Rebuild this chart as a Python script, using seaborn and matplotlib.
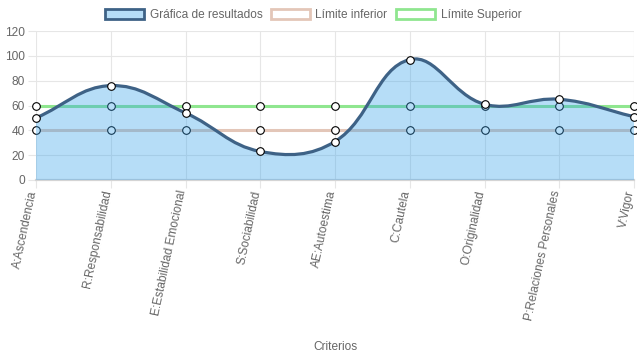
import numpy as np
import pandas as pd
import matplotlib
matplotlib.use("Agg")
import matplotlib.pyplot as plt
import seaborn as sns
from matplotlib.path import Path
from matplotlib.patches import PathPatch, Patch

categories = ["A:Ascendencia", "R:Responsabilidad", "E:Estabilidad Emocional",
              "S:Sociabilidad", "AE:Autoestima", "C:Cautela", "O:Originalidad",
              "P:Relaciones Personales", "V:Vigor"]
resultados = [50, 76, 54, 23, 31, 97, 61, 65, 51]
limite_inferior = [40, 40, 40, 40, 40, 40, 40, 40, 40]
limite_superior = [60, 60, 60, 60, 60, 60, 60, 60, 60]
y_ticks = [0, 20, 40, 60, 80, 100, 120]
legend_labels = ["Gráfica de resultados", "Límite inferior", "Límite Superior"]

sns.set_theme(style="white")
plt.rcParams["font.family"] = ["Liberation Sans", "DejaVu Sans"]

W, H = 637, 359
fig = plt.figure(figsize=(W / 100, H / 100), dpi=100)
L, R, T, B = 36, 634, 31, 180
ax = fig.add_axes([L / W, 1 - B / H, (R - L) / W, (B - T) / H])
n = len(categories)
ax.set_xlim(0, n - 1)
ax.set_ylim(0, 120)

FILL = (54 / 255, 162 / 255, 235 / 255, 0.36)
LINE = "#3e6286"
LOW = "#e3c6b8"
UP = "#8fe68f"
TXT = "#666666"
GRID = "#e6e6e6"

df = pd.DataFrame({"idx": np.arange(n), "res": resultados,
                   "low": limite_inferior, "up": limite_superior})

mk = dict(marker="o", markersize=5.5, markerfacecolor="white",
          markeredgecolor="black", markeredgewidth=0.8, clip_on=False)
sns.lineplot(data=df, x="idx", y="up", ax=ax, color=UP, lw=2.2, zorder=2, **mk)
sns.lineplot(data=df, x="idx", y="low", ax=ax, color=LOW, lw=2.2, zorder=2, **mk)

# Chart.js style bezier (tension 0.4) computed in pixel space
sx = (R - L) / (n - 1)
sy = (B - T) / 120.0
px = np.arange(n) * sx
py = np.array(resultados, dtype=float) * sy
t = 0.4
cp_prev = []
cp_next = []
for i in range(n):
    x0, y0 = (px[i - 1], py[i - 1]) if i > 0 else (px[i], py[i])
    x1, y1 = px[i], py[i]
    x2, y2 = (px[i + 1], py[i + 1]) if i < n - 1 else (px[i], py[i])
    d01 = np.hypot(x1 - x0, y1 - y0)
    d12 = np.hypot(x2 - x1, y2 - y1)
    tot = d01 + d12
    s01 = d01 / tot if tot else 0
    s12 = d12 / tot if tot else 0
    fa, fb = t * s01, t * s12
    cp_prev.append((x1 - fa * (x2 - x0), y1 - fa * (y2 - y0)))
    cp_next.append((x1 + fb * (x2 - x0), y1 + fb * (y2 - y0)))

verts = [(px[0], py[0])]
codes = [Path.MOVETO]
for i in range(n - 1):
    verts += [cp_next[i], cp_prev[i + 1], (px[i + 1], py[i + 1])]
    codes += [Path.CURVE4] * 3
verts = [(vx / sx, vy / sy) for vx, vy in verts]

line_path = Path(verts, codes)
fill_verts = [(0, 0), verts[0]] + verts[1:] + [(n - 1, 0), (0, 0)]
fill_codes = [Path.MOVETO, Path.LINETO] + codes[1:] + [Path.LINETO, Path.CLOSEPOLY]
ax.add_patch(PathPatch(Path(fill_verts, fill_codes), facecolor=FILL, edgecolor="none", zorder=3))
ax.add_patch(PathPatch(line_path, facecolor="none", edgecolor=LINE, lw=2.3, zorder=4,
                       capstyle="round", joinstyle="round"))
sns.scatterplot(data=df, x="idx", y="res", ax=ax, s=30, color="white",
                edgecolor="black", linewidth=0.8, zorder=5, clip_on=False)

ax.set_xticks(np.arange(n))
ax.set_xticklabels(categories)
ax.set_yticks(y_ticks)
ax.grid(True, color=GRID, lw=0.8, alpha=1)
ax.set_axisbelow(True)
for s in ["top", "right", "left"]:
    ax.spines[s].set_visible(False)
ax.spines["bottom"].set_color("#d4d4d4")
ax.spines["bottom"].set_linewidth(1.6)
ax.tick_params(axis="both", length=6, width=0.8, color=GRID, labelsize=8.6, labelcolor=TXT)
ax.tick_params(axis="y", pad=2, left=True)
ax.tick_params(axis="x", pad=2, bottom=True)
for lab in ax.get_xticklabels():
    lab.set_rotation(78)
    lab.set_rotation_mode("anchor")
    lab.set_ha("right")
    lab.set_va("baseline")

ax.set_ylabel("")
ax.set_xlabel("Criterios", color=TXT, fontsize=8.6)
ax.xaxis.set_label_coords(0.5, (12 - (H - B)) / (B - T))
ax.xaxis.label.set_va("center")

handles = [Patch(facecolor=FILL, edgecolor=LINE, lw=2),
           Patch(facecolor="white", edgecolor=LOW, lw=2),
           Patch(facecolor="white", edgecolor=UP, lw=2)]
leg = fig.legend(handles, legend_labels, loc="center", bbox_to_anchor=(313 / W, 1 - 15 / H),
                 ncol=3, frameon=False, fontsize=8.6, handlelength=3.3, handleheight=1.0,
                 handletextpad=0.45, columnspacing=0.7, borderpad=0)
for tx in leg.get_texts():
    tx.set_color(TXT)

fig.savefig("out.png", dpi=100)
